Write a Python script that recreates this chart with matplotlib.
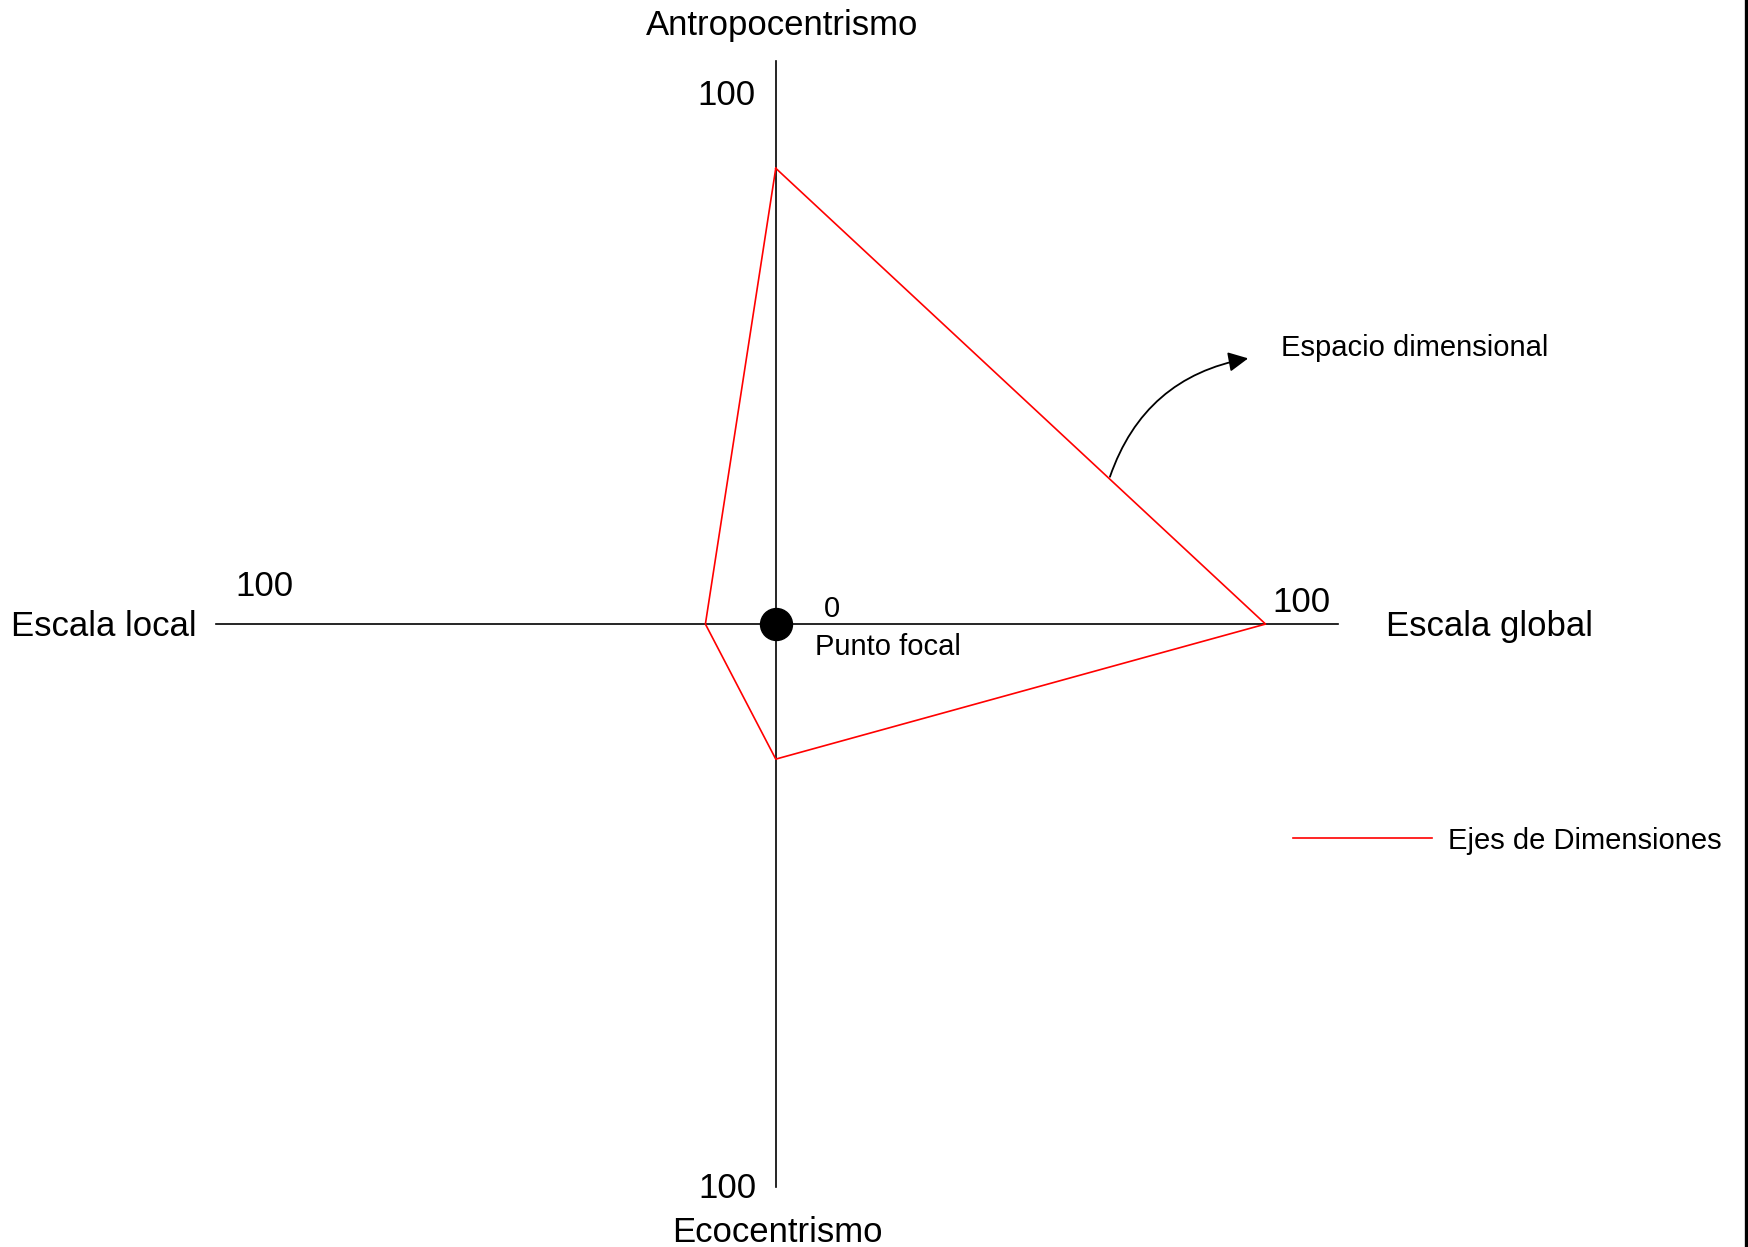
import matplotlib.pyplot as plt
from matplotlib.patches import FancyArrowPatch
from matplotlib.lines import Line2D

plt.rcParams['font.family'] = ['Liberation Sans', 'DejaVu Sans']

# dimension names and scores (0-100)
dimensions = ["Antropocentrismo", "Escala global", "Ecocentrismo", "Escala local"]
values = [81, 87, 24, 12.5]
directions = [(0, 1), (1, 0), (0, -1), (-1, 0)]
axis_max = 100
legend_label = "Ejes de Dimensiones"
focal_label = "Punto focal"
space_label = "Espacio dimensional"

fig = plt.figure(figsize=(17.48, 12.47), dpi=100)
ax = fig.add_axes([0, 0, 1, 1])
ax.set_xlim(-137.8, 172.7)
ax.set_ylim(-110.7, 110.9)
ax.axis('off')

# the two axes
ax.plot([-99.5, 99.8], [0, 0], color='black', lw=1.2)
ax.plot([0, 0], [-axis_max, axis_max], color='black', lw=1.2)

# polygon of the dimensions
px = [d[0] * v for d, v in zip(directions, values)]
py = [d[1] * v for d, v in zip(directions, values)]
ax.plot(px + px[:1], py + py[:1], color='red', lw=1.2)

# focal point
ax.plot(0, 0, 'o', color='black', markersize=23)

big = 25
small = 21
dy = -0.5  # small shift so text sits like the original
ax.text(1.2, 106.9 + dy, dimensions[0], fontsize=big, ha='center', va='center')
ax.text(126.7, 0 + dy, dimensions[1], fontsize=big, ha='center', va='center')
ax.text(0.2, -107.7 + dy, dimensions[2], fontsize=big, ha='center', va='center')
ax.text(-119.4, 0 + dy, dimensions[3], fontsize=big, ha='center', va='center')

ax.text(-8.7, 94.5 + dy, str(axis_max), fontsize=big, ha='center', va='center')
ax.text(93.3, 4.4 + dy, str(axis_max), fontsize=big, ha='center', va='center')
ax.text(-8.5, -99.8 + dy, str(axis_max), fontsize=big, ha='center', va='center')
ax.text(-90.9, 7.1 + dy, str(axis_max), fontsize=big, ha='center', va='center')

ax.text(9.9, 3.2 + dy, "0", fontsize=small, ha='center', va='center')
ax.text(20.0, -3.6 + dy, focal_label, fontsize=small, ha='center', va='center')
ax.text(89.8, 49.5 + dy, space_label, fontsize=small, ha='left', va='center')

arrow = FancyArrowPatch((59.2, 25.7), (84.4, 47.3), connectionstyle='arc3,rad=-0.3',
                        arrowstyle='-|>', mutation_scale=30, color='black', lw=1.3)
ax.add_patch(arrow)

# legend
ax.plot([91.9, 116.6], [-38, -38], color='red', lw=1.2)
ax.text(119.4, -38 + dy, legend_label, fontsize=small, ha='left', va='center')

# right border
fig.add_artist(Line2D([0.9991, 0.9991], [0, 1], color='black', lw=2.4, transform=fig.transFigure))

fig.savefig('out.png', dpi=100)
